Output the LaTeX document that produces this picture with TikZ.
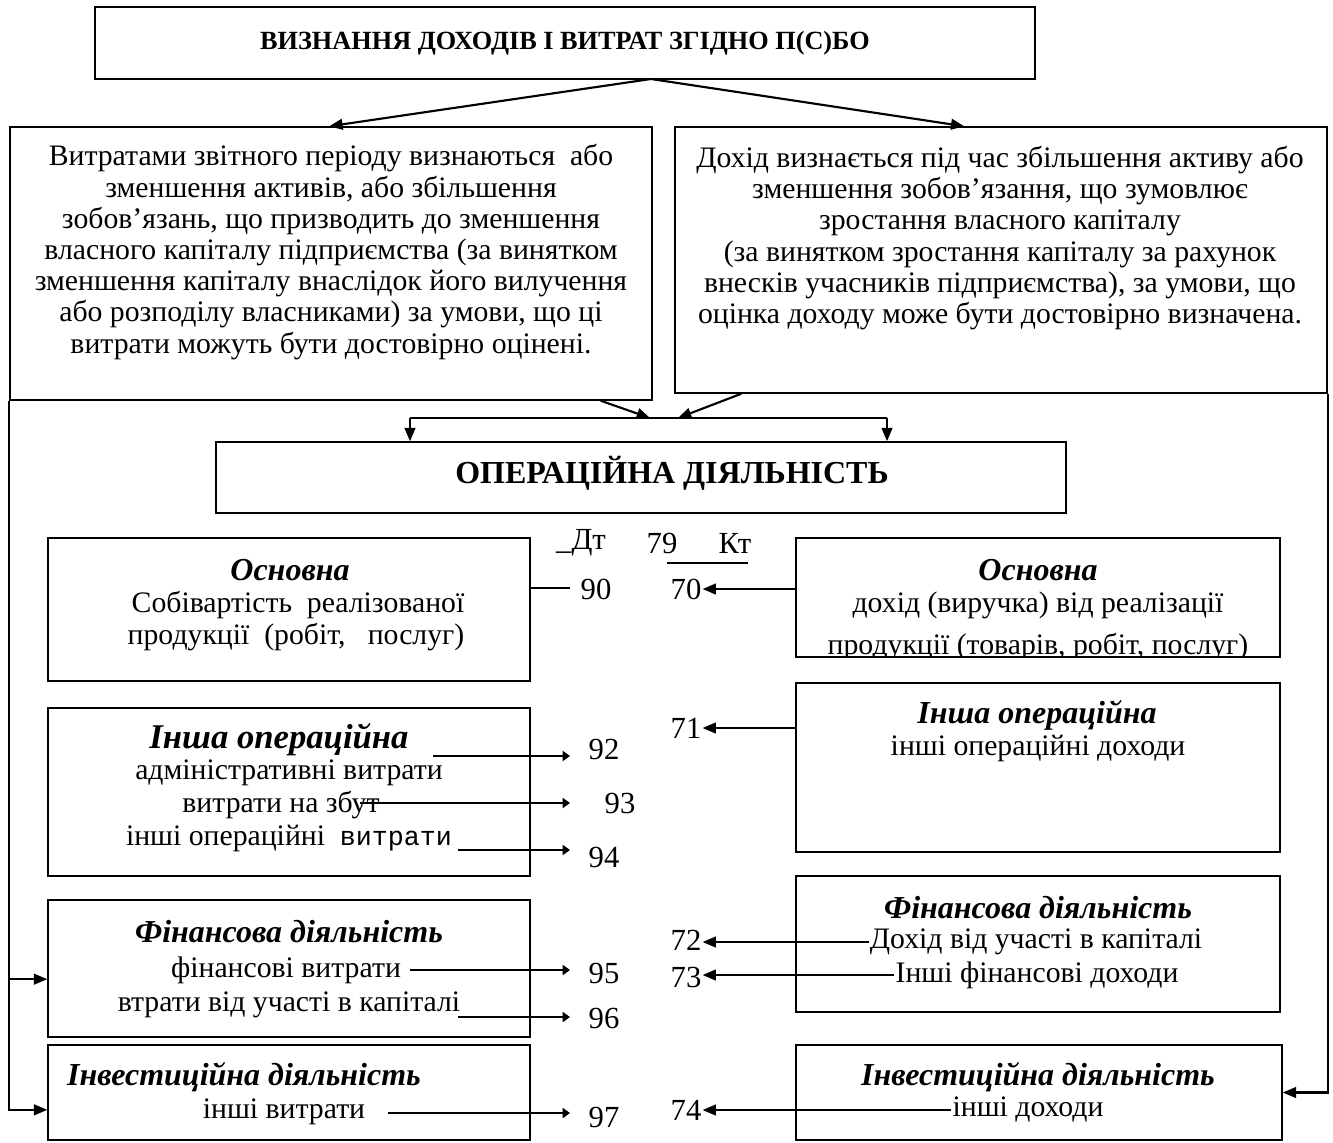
\documentclass[tikz,border=0pt]{standalone}
\usepackage{fontspec}
\setmainfont{Liberation Serif}
\setmonofont{Liberation Mono}
\usetikzlibrary{arrows.meta}
\newcommand\fs{\fontsize{22.3}{23.4}\selectfont}
\newcommand\hs{\fontsize{24}{26}\selectfont}

\begin{document}
\begin{tikzpicture}[x=0.75pt,y=0.75pt,yscale=-1,xscale=1,
  box/.style 2 args={draw, line width=1.1pt, inner sep=0pt, minimum width=#1*0.75pt, minimum height=#2*0.75pt},
  txt/.style={inner sep=0.75pt, font=\fs},
  head/.style={inner sep=0.75pt, font=\hs\bfseries\itshape},
  num/.style={inner sep=0.75pt, font=\fontsize{23}{25}\selectfont},
  con/.style={line width=1.1pt},
  arr/.style={line width=1.6pt, -{Triangle[length=10pt,width=8pt]}},
  sarr/.style={line width=1.6pt, -{Triangle[length=5.5pt,width=7.5pt]}}]
\useasboundingbox (0,0) rectangle (1333,1142);

% Boxes
\node[box={940}{72}, font=\fontsize{19.7}{22}\selectfont\bfseries] (title) at (565,43) {ВИЗНАННЯ ДОХОДІВ І ВИТРАТ ЗГІДНО П(С)БО};
\node[box={642}{273}] (ltop) at (331,263.5) {};
\node[box={652}{266}] (rtop) at (1001,260) {};
\node[box={850}{71}] (op) at (641,477.5) {};
\node[box={482}{143}] (l1) at (289,609.5) {};
\node[box={484}{119}] (r1) at (1038,597.5) {};
\node[box={482}{168}] (l2) at (289,792) {};
\node[box={484}{169}] (r2) at (1038,767.5) {};
\node[box={482}{137}] (l3) at (289,968.5) {};
\node[box={484}{136}] (r3) at (1038,944) {};
\node[box={482}{95}] (l4) at (289,1092.5) {};
\node[box={486}{95}] (r4) at (1039,1092.5) {};

\node[font=\fontsize{24}{26}\selectfont\bfseries] (optxt) at (672,473) {ОПЕРАЦІЙНА ДІЯЛЬНІСТЬ};

% Text in the top boxes
\node[txt, align=center] (ltxt) at (331,252) {Витратами звітного періоду визнаються\ \ або\\зменшення активів, або збільшення\\зобов'язань, що призводить до зменшення\\власного капіталу підприємства (за винятком\\зменшення капіталу внаслідок його вилучення\\або розподілу власниками) за умови, що ці\\витрати можуть бути достовірно оцінені.};
\node[txt, align=center] (rtxt) at (1000,238) {Дохід визнається під час збільшення активу або\\зменшення зобов'язання, що зумовлює\\зростання власного капіталу\\(за винятком зростання капіталу за рахунок\\внесків учасників підприємства), за умови, що\\оцінка доходу може бути достовірно визначена.};

% Left column texts
\node[head] (l1h) at (290,570) {Основна};
\node[txt] (l1a) at (298,605) {Собівартість\ \ реалізованої};
\node[txt] (l1b) at (296,637) {продукції\ \ (робіт,\ \ \ послуг)};
\node[head, font=\fontsize{26}{28}\selectfont\bfseries\itshape] (l2h) at (279,740) {Інша операційна};
\node[txt] (l2a) at (289,773) {адміністративні витрати};
\node[txt] (l2b) at (281,805) {витрати на збут};
\node[txt] (l2c) at (289,838) {інші операційні\ \ {\ttfamily\fontsize{20}{22}\selectfont витрати}};
\node[head] (l3h) at (289,932) {Фінансова діяльність};
\node[txt] (l3a) at (286,970) {фінансові витрати};
\node[txt] (l3b) at (289,1005) {втрати від участі в капіталі};
\node[head] (l4h) at (244,1077) {Інвестиційна діяльність};
\node[txt] (l4a) at (284,1112) {інші витрати};

% Right column texts
\node[head] (r1h) at (1038,570) {Основна};
\node[txt] (r1a) at (1038,605) {дохід (виручка) від реалізації};
\begin{scope}
  \clip (r1.north west) rectangle (r1.south east);
  \node[txt, anchor=base] (r1b) at (1038,654) {продукції (товарів, робіт, послуг)};
\end{scope}
\node[head] (r2h) at (1037,715) {Інша операційна};
\node[txt] (r2a) at (1038,748) {інші операційні доходи};
\node[head] (r3h) at (1038,908) {Фінансова діяльність};
\node[txt] (r3a) at (1036,942) {Дохід від участі в капіталі};
\node[txt] (r3b) at (1037,975) {Інші фінансові доходи};
\node[head] (r4h) at (1038,1077) {Інвестиційна діяльність};
\node[txt] (r4a) at (1028,1110) {інші доходи};

% Account 79
\node[num] (dt) at (581,543) {\_Дт};
\node[num] (n79) at (662,543) {79};
\node[num] (kt) at (735,543) {Кт};
\node[num] (n90) at (596,589) {90};
\node[num] (n70) at (686,589) {70};
\node[num] (n71) at (686,728) {71};
\node[num] (n92) at (604,749) {92};
\node[num] (n93) at (620,803) {93};
\node[num] (n94) at (604,857) {94};
\node[num] (n72) at (686,940) {72};
\node[num] (n73) at (686,977) {73};
\node[num] (n95) at (604,973) {95};
\node[num] (n96) at (604,1018) {96};
\node[num] (n97) at (604,1117) {97};
\node[num] (n74) at (686,1110) {74};
\draw[con] (667,563) -- (748,563);

% Points
\coordinate (apex) at (651,79);
\coordinate (bus1) at (650,418);
\coordinate (bus2) at (678,418);
\coordinate (busl) at (410,418);
\coordinate (busr) at (887,418);
\coordinate (dtcol) at (570,0);
\coordinate (s90) at (570,588);
\coordinate (s92) at (433,756);
\coordinate (s93) at (360,803);
\coordinate (s94) at (458,850);
\coordinate (s95) at (410,970);
\coordinate (s96) at (458,1017);
\coordinate (s97) at (388,1113);

% Connectors
\draw[arr] (apex) -- ([xshift=240pt]ltop.north west);
\draw[arr] (apex) -- ([xshift=217.5pt]rtop.north west);
\draw[arr] ([xshift=-39pt]ltop.south east) -- (bus1);
\draw[arr] ([xshift=50.25pt]rtop.south west) -- (bus2);
\draw[con] (busl) -- (busr);
\draw[arr] (busl) -- (busl |- op.north);
\draw[arr] (busr) -- (busr |- op.north);
\draw[arr] (ltop.south west) |- ([yshift=13pt]l4.west);
\draw[arr] ([yshift=8pt]l3.west -| ltop.west) -- ([yshift=8pt]l3.west);
\draw[arr] (rtop.south east) |- (r4.east);
\draw[con] (s90 -| l1.east) -- (s90);
\draw[arr] (r1.west |- n70) -- (n70.east);
\draw[arr] (r2.west |- n71) -- (n71.east);
\draw[arr] (r3a.west) -- (r3a.west -| n72.east);
\draw[arr] (r3b.west) -- (r3b.west -| n73.east);
\draw[arr] (r4a.west) -- (r4a.west -| n74.east);
\foreach \k in {92,93,94,95,96,97}
  \draw[sarr] (s\k) -- (s\k -| dtcol);

\end{tikzpicture}
\end{document}
